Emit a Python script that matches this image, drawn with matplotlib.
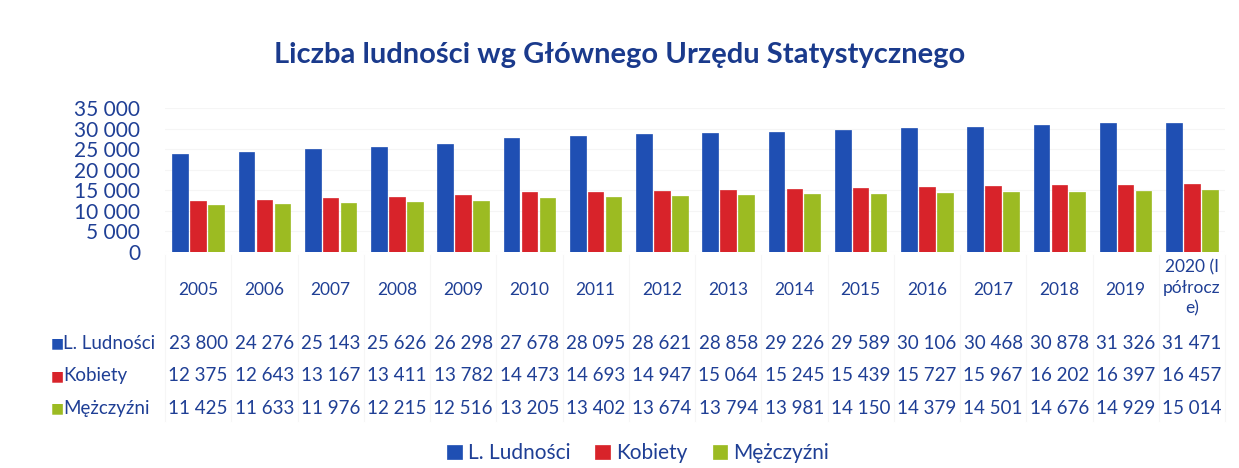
import matplotlib
matplotlib.use("Agg")
import matplotlib.pyplot as plt
import numpy as np
from matplotlib.transforms import blended_transform_factory

lata = ["2005", "2006", "2007", "2008", "2009", "2010", "2011", "2012",
        "2013", "2014", "2015", "2016", "2017", "2018", "2019", "2020 (I\npółrocz\ne)"]
ludnosc = [23800, 24276, 25143, 25626, 26298, 27678, 28095, 28621,
           28858, 29226, 29589, 30106, 30468, 30878, 31326, 31471]
kobiety = [12375, 12643, 13167, 13411, 13782, 14473, 14693, 14947,
           15064, 15245, 15439, 15727, 15967, 16202, 16397, 16457]
mezczyzni = [11425, 11633, 11976, 12215, 12516, 13205, 13402, 13674,
             13794, 13981, 14150, 14379, 14501, 14676, 14929, 15014]
serie = ["L. Ludności", "Kobiety", "Mężczyźni"]

kolory = ["#1f4fb3", "#d8232a", "#9cbb22"]
granat = "#1f3f95"
plt.rcParams["font.family"] = ["Lato", "DejaVu Sans"]


def fmt(v):
    return f"{v:,}".replace(",", " ")


fig = plt.figure(figsize=(12.39, 4.68), dpi=100)
ax = fig.add_axes([0.1332, 0.4615, 0.8555, 0.3077])

x = np.arange(len(lata))
w = 0.235
dane = [ludnosc, kobiety, mezczyzni]
slupki = []
for i, (d, k) in enumerate(zip(dane, kolory)):
    b = ax.bar(x + (i - 1) * 0.27, d, w, color=k, edgecolor=k, linewidth=0.5, label=serie[i])
    slupki.append(b)

ax.set_xlim(-0.5, len(lata) - 0.5)
ax.set_ylim(0, 35000)
ax.set_yticks(range(0, 35001, 5000))
ax.set_yticklabels([fmt(v) for v in range(0, 35001, 5000)], fontsize=15, color=granat)
ax.tick_params(axis="y", length=0, pad=18)
ax.set_xticks([])
ax.grid(axis="y", color="#f5f5f5", linewidth=0.8)
ax.set_axisbelow(True)
for s in ax.spines.values():
    s.set_visible(False)

fig.suptitle("Liczba ludności wg Głównego Urzędu Statystycznego", y=0.91,
             fontsize=21, fontweight="bold", color="#1a3a8c")

tr = blended_transform_factory(ax.transData, fig.transFigure)
# lata pod wykresem
for xi, rok in zip(x, lata):
    if "\n" in rok:
        ax.text(xi, 0.385, rok, transform=tr, ha="center", va="center",
                fontsize=12.5, color=granat, linespacing=1.35, clip_on=False)
    else:
        ax.text(xi, 0.380, rok, transform=tr, ha="center", va="center",
                fontsize=12.5, color=granat, clip_on=False)

# tabela danych
wiersze_y = [0.267, 0.197, 0.128]
for yy, nazwa, d, k in zip(wiersze_y, serie, dane, kolory):
    fig.text(0.046, yy, "■", color=k, fontsize=10, ha="center", va="center",
             family=["DejaVu Sans"])
    fig.text(0.051, yy, nazwa, color=granat, fontsize=13.5, ha="left", va="center")
    for xi, v in zip(x, d):
        ax.text(xi, yy, fmt(v), transform=tr, ha="center", va="center",
                fontsize=13.5, color=granat, clip_on=False)

# delikatne linie tabeli
for xi in np.arange(-0.5, len(lata), 1.0):
    ax.plot([xi, xi], [0.10, 0.455], transform=tr, color="#f6f6f6", lw=0.8, clip_on=False)

fig.legend(handles=slupki, labels=serie, loc="lower center", bbox_to_anchor=(0.515, -0.03),
           ncol=3, frameon=False, fontsize=15, handlelength=0.7, handleheight=0.7,
           handletextpad=0.3, columnspacing=1.2, labelcolor=granat)

fig.savefig("out.png", dpi=100, facecolor="white")
